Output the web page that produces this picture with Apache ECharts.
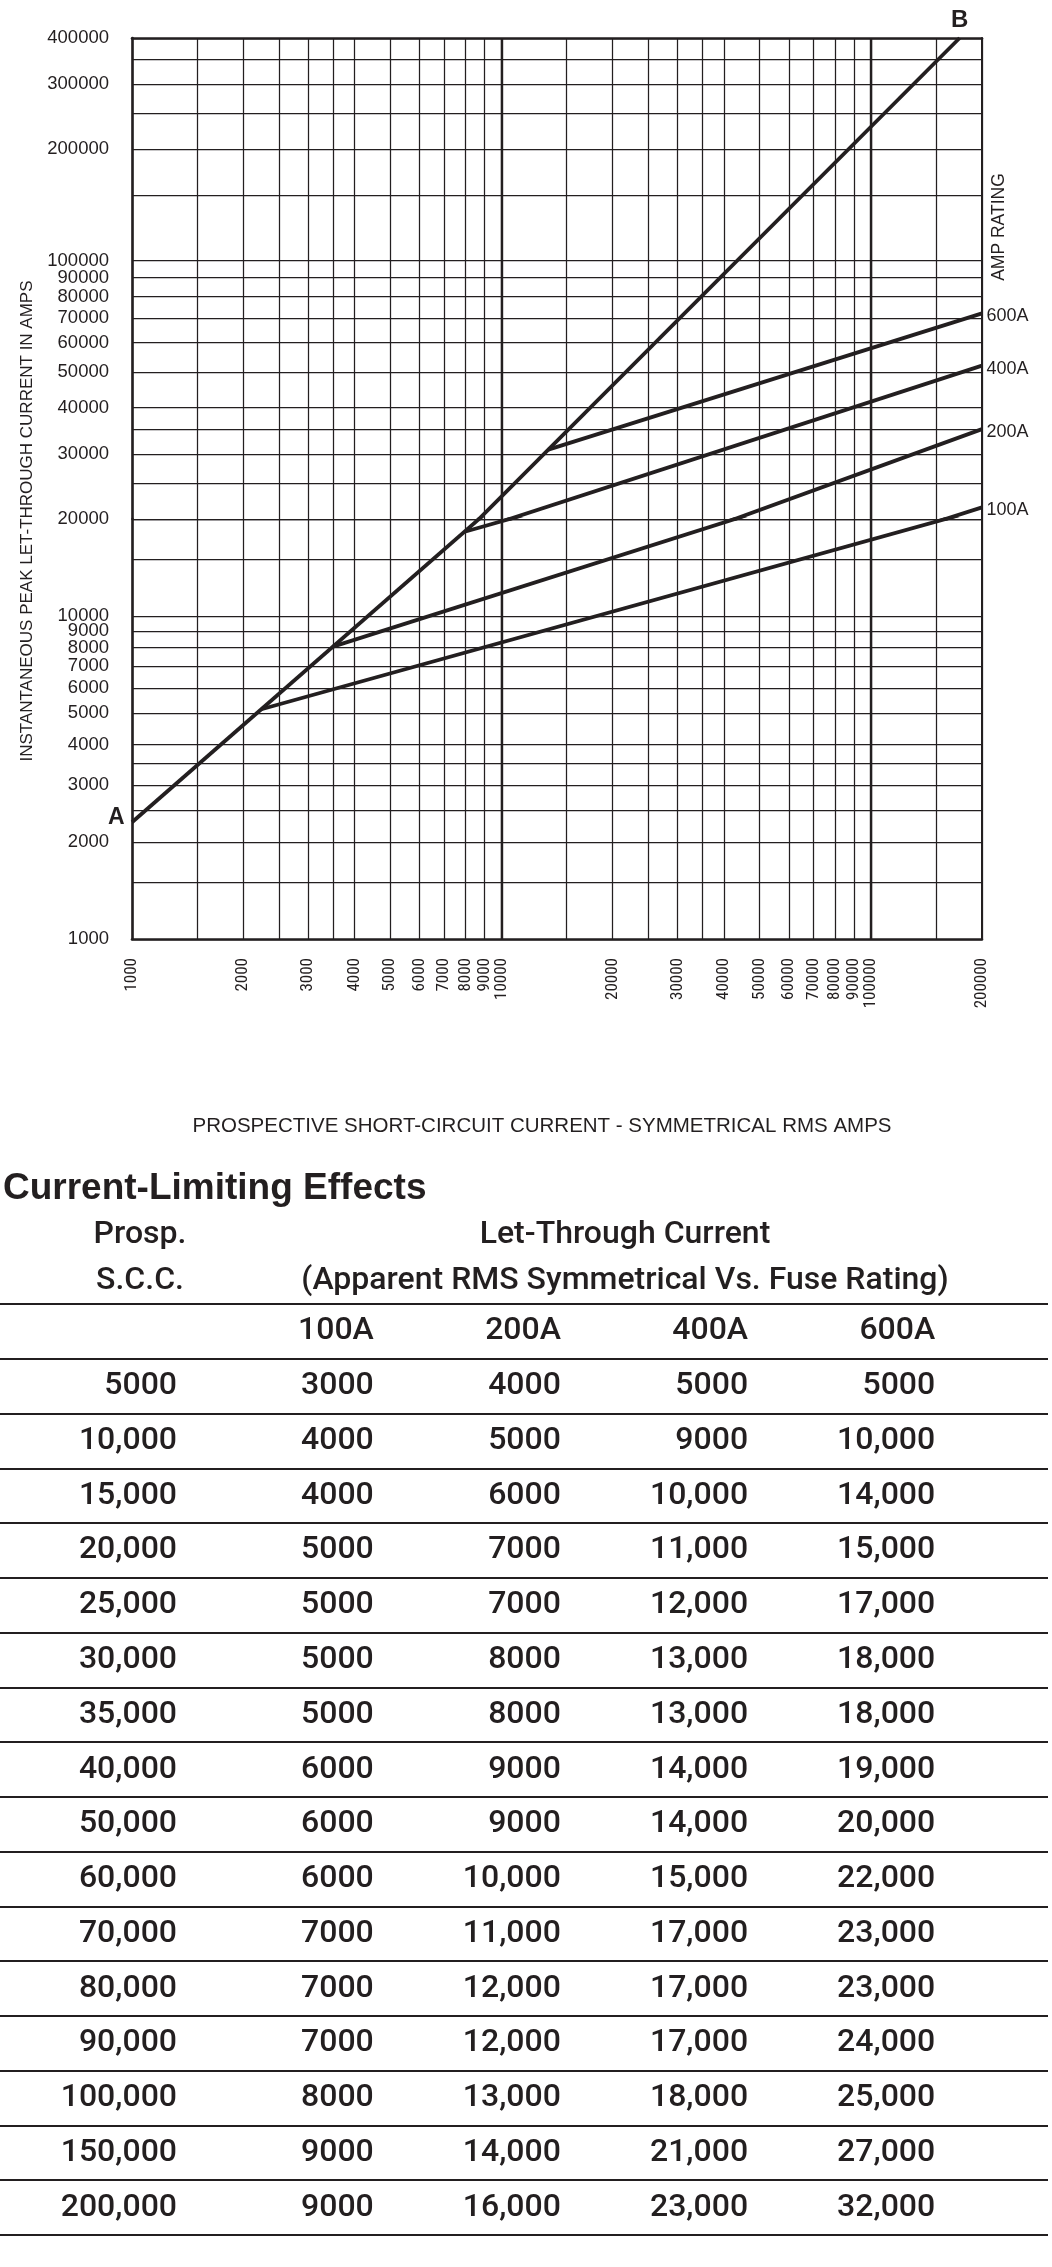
<!DOCTYPE html>
<html>
<head>
<meta charset="utf-8">
<script src="https://cdn.jsdelivr.net/npm/echarts@6/dist/echarts.min.js"></script>
<style>
  html, body { margin: 0; padding: 0; background: #fff; }
  #chart { width: 1052px; height: 2267px; }
</style>
</head>
<body>
<div id="chart"></div>
<script>
// grid lines and tick labels of the log paper
var xGrid = [1000, 1500, 2000, 2500, 3000, 3500, 4000, 5000, 6000, 7000, 8000, 9000, 10000,
  15000, 20000, 25000, 30000, 35000, 40000, 50000, 60000, 70000, 80000, 90000, 100000, 150000, 200000];
var xLabels = [1000, 2000, 3000, 4000, 5000, 6000, 7000, 8000, 9000, 10000,
  20000, 30000, 40000, 50000, 60000, 70000, 80000, 90000, 100000, 200000];
var xDecades = [10000, 100000];
var yGridLow = [1000, 1500, 2000, 2500, 3000, 3500, 4000, 5000, 6000, 7000, 8000, 9000, 10000, 15000, 20000];
var yLabelsLow = [1000, 2000, 3000, 4000, 5000, 6000, 7000, 8000, 9000, 10000, 20000];
var yGridHigh = [20000, 25000, 30000, 35000, 40000, 50000, 60000, 70000, 80000, 90000, 100000,
  150000, 200000, 250000, 300000, 350000, 400000];
var yLabelsHigh = [30000, 40000, 50000, 60000, 70000, 80000, 90000, 100000, 200000, 300000, 400000];

// line A-B (max peak) and the fuse curves, which leave A-B and run to 200000
var lineAB = [[1000, 2300], [174000, 400000]];
var fuseNames = ['100A', '200A', '400A', '600A'];
var fuseStart = [[2240, 5150], [3500, 8050], [8000, 18300], [13400, 30800]];
var fuseEnd = [[200000, 21500], [200000, 35000], [200000, 52000], [200000, 72000]];

// table: Current-Limiting Effects
var prospSCC = [5000, 10000, 15000, 20000, 25000, 30000, 35000, 40000, 50000, 60000,
  70000, 80000, 90000, 100000, 150000, 200000];
var let100A = [3000, 4000, 4000, 5000, 5000, 5000, 5000, 6000, 6000, 6000, 7000, 7000, 7000, 8000, 9000, 9000];
var let200A = [4000, 5000, 6000, 7000, 7000, 8000, 8000, 9000, 9000, 10000, 11000, 12000, 12000, 13000, 14000, 16000];
var let400A = [5000, 9000, 10000, 11000, 12000, 13000, 13000, 14000, 14000, 15000, 17000, 17000, 17000, 18000, 21000, 23000];
var let600A = [5000, 10000, 14000, 15000, 17000, 18000, 18000, 19000, 20000, 22000, 23000, 23000, 24000, 25000, 27000, 32000];

var ink = '#231f20';
var sans = 'Liberation Sans';

function fontAvailable(name) {
  var ctx = document.createElement('canvas').getContext('2d');
  var probe = '0123456789 ABCDEFGHIJ abcdefghij';
  ctx.font = '40px monospace';
  var base = ctx.measureText(probe).width;
  ctx.font = '40px "' + name + '", monospace';
  return ctx.measureText(probe).width !== base;
}
// narrow face for the rotated x labels, sized so the digits keep their width
var narrowChoices = [['Liberation Sans Narrow', 18.5], ['Arial Narrow', 18.5], ['Roboto Condensed', 17]];
var tickFont = sans, tickSize = 15.2;
for (var k = 0; k < narrowChoices.length; k++) {
  if (fontAvailable(narrowChoices[k][0])) { tickFont = narrowChoices[k][0]; tickSize = narrowChoices[k][1]; break; }
}
var tableFont = fontAvailable('Roboto') ? 'Roboto' : sans;
var tableSize = 32;
var tableWeight = 500;

function fmt(v) {
  return v >= 10000 ? echarts.format.addCommas(v) : String(v);
}
function plain(v) {
  return String(Math.round(v));
}

function logX(gridIndex, bottom) {
  return {
    type: 'log', gridIndex: gridIndex, min: 1000, max: 200000,
    position: bottom ? 'bottom' : 'top',
    axisLine: { show: true, onZero: false, lineStyle: { color: ink, width: 2.6 } },
    axisTick: { show: false, customValues: xGrid },
    splitLine: { show: true, lineStyle: { color: ink, width: 1.25 } },
    axisLabel: bottom ? {
      show: true, customValues: xLabels, rotate: 90, margin: 19,
      fontFamily: tickFont, fontSize: tickSize, color: ink, formatter: plain
    } : { show: false }
  };
}
function logY(gridIndex, min, max, ticks, labels) {
  return {
    type: 'log', gridIndex: gridIndex, min: min, max: max,
    axisLine: { show: true, onZero: false, lineStyle: { color: ink, width: 2.6 } },
    axisTick: { show: false, customValues: ticks },
    splitLine: { show: true, lineStyle: { color: ink, width: 1.25 } },
    axisLabel: {
      show: true, customValues: labels, margin: 23,
      fontFamily: sans, fontSize: 18.5, color: ink, formatter: plain
    }
  };
}
function frameY(gridIndex, min, max) {
  return {
    type: 'log', gridIndex: gridIndex, min: min, max: max, position: 'right',
    axisLine: { show: true, onZero: false, lineStyle: { color: ink, width: 2 } },
    axisTick: { show: false }, axisLabel: { show: false }, splitLine: { show: false }
  };
}

var series = [];
[0, 1].forEach(function (g) {
  series.push({
    type: 'line', xAxisIndex: g, yAxisIndex: g, data: lineAB,
    symbol: 'none', clip: true, silent: true,
    lineStyle: { color: ink, width: 3.8 },
    markLine: {
      silent: true, symbol: 'none', label: { show: false },
      lineStyle: { color: ink, width: 2.4, type: 'solid' },
      data: xDecades.map(function (v) { return { xAxis: v }; })
    }
  });
  fuseNames.forEach(function (name, i) {
    series.push({
      type: 'line', name: name, xAxisIndex: g, yAxisIndex: g,
      data: [fuseStart[i], fuseEnd[i]],
      symbol: 'none', clip: true, silent: true,
      lineStyle: { color: ink, width: 3.8 }
    });
  });
});

function pointLabels(g, points, texts, position, distance, fontSize, bold, offset) {
  return {
    type: 'scatter', xAxisIndex: g, yAxisIndex: g, clip: false, silent: true,
    symbolSize: 1, itemStyle: { color: 'rgba(0,0,0,0)', opacity: 1 },
    data: points.map(function (p, i) { return { value: p, name: texts[i] }; }),
    label: {
      show: true, formatter: '{b}', position: position, distance: distance, opacity: 1,
      offset: offset || [0, 0],
      fontFamily: sans, fontSize: fontSize, fontWeight: bold ? 'bold' : 'normal', color: ink
    }
  };
}
series.push(pointLabels(1, [lineAB[0]], ['A'], 'left', 7, 23, true, [0, -5]));
series.push(pointLabels(0, [lineAB[1]], ['B'], 'top', 5, 24, true));
series.push(pointLabels(0, fuseEnd, fuseNames, 'right', 4, 18, false, [0, 3]));

// table cells: header row of fuse ratings, then one row per prospective current
var columns = [let100A, let200A, let400A, let600A];
var cells = fuseNames.map(function (n, c) { return { value: [c + 1, 0], name: n }; });
prospSCC.forEach(function (p, r) {
  columns.forEach(function (col, c) {
    cells.push({ value: [c + 1, r + 1], name: fmt(col[r]) });
  });
});
series.push({
  type: 'scatter', xAxisIndex: 2, yAxisIndex: 4, silent: true,
  symbolSize: 1, itemStyle: { color: 'rgba(0,0,0,0)', opacity: 1 },
  data: cells,
  label: {
    show: true, formatter: '{b}', position: 'left', distance: 0, opacity: 1,
    fontFamily: tableFont, fontWeight: tableWeight, fontSize: tableSize, color: ink
  }
});

function txt(x, y, text, size, opts) {
  opts = opts || {};
  return {
    type: 'text', x: x, y: y, rotation: opts.rotation || 0, silent: true,
    style: {
      text: text, fontSize: size, fontFamily: opts.font || sans,
      fontWeight: opts.weight || 'normal', fill: ink,
      align: opts.align || 'center', verticalAlign: 'middle'
    }
  };
}
var tableText = { font: tableFont, weight: tableWeight };

var chart = echarts.init(document.getElementById('chart'), null, { renderer: 'canvas' });
chart.setOption({
  animation: false,
  backgroundColor: '#fff',
  grid: [
    { left: 132, right: 70, top: 38, height: 481 },
    { left: 132, right: 70, top: 519, height: 420 },
    { left: 0, right: 4, top: 1304, height: 931 }
  ],
  xAxis: [
    logX(0, false),
    logX(1, true),
    { type: 'value', gridIndex: 2, min: -1, max: 4.6, show: false }
  ],
  yAxis: [
    logY(0, 20000, 400000, yGridHigh, yLabelsHigh),
    logY(1, 1000, 20000, yGridLow, yLabelsLow),
    frameY(0, 20000, 400000),
    frameY(1, 1000, 20000),
    {
      type: 'category', gridIndex: 2, inverse: true,
      data: [''].concat(prospSCC.map(fmt)),
      axisLine: { show: false }, axisTick: { show: false },
      splitLine: { show: true, interval: 0, lineStyle: { color: ink, width: 2 } },
      axisLabel: {
        show: true, interval: 0, inside: true, margin: 177, align: 'right',
        fontFamily: tableFont, fontWeight: tableWeight, fontSize: tableSize, color: ink
      }
    }
  ],
  graphic: [
    txt(27, 521, 'INSTANTANEOUS PEAK LET-THROUGH CURRENT IN AMPS', 17, { rotation: Math.PI / 2 }),
    txt(999, 227, 'AMP RATING', 17.5, { rotation: Math.PI / 2 }),
    txt(542, 1126, 'PROSPECTIVE SHORT-CIRCUIT CURRENT - SYMMETRICAL RMS AMPS', 20.5),
    txt(3, 1189, 'Current-Limiting Effects', 37, { weight: 'bold', align: 'left' }),
    txt(140, 1235, 'Prosp.', tableSize, tableText),
    txt(140, 1281, 'S.C.C.', tableSize, tableText),
    txt(625, 1235, 'Let-Through Current', tableSize, tableText),
    txt(625, 1281, '(Apparent RMS Symmetrical Vs. Fuse Rating)', tableSize, tableText)
  ],
  series: series
});
</script>
</body>
</html>
